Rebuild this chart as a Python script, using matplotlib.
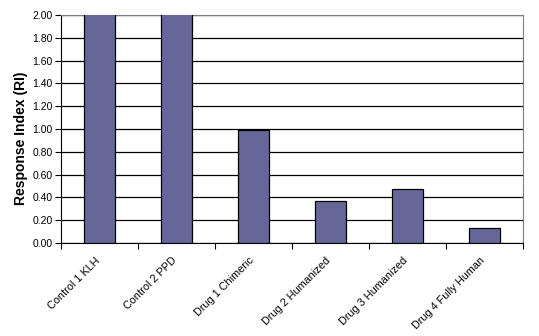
import numpy as np
import matplotlib.pyplot as plt
from matplotlib.transforms import ScaledTranslation

categories = ["Control 1 KLH", "Control 2 PPD", "Drug 1 Chimeric",
              "Drug 2 Humanized", "Drug 3 Humanized", "Drug 4 Fully Human"]
# the two controls run off the top of the axis
ri_values = [2.6, 2.6, 0.99, 0.37, 0.47, 0.13]
y_ticks = np.arange(0, 2.01, 0.2)

plt.rcParams['font.family'] = ['Liberation Sans', 'DejaVu Sans']

fig = plt.figure(figsize=(5.39, 3.36), dpi=100)
ax = fig.add_axes([0.113, 0.277, 0.857, 0.678])

x = np.arange(len(categories))
ax.bar(x, ri_values, width=0.4, color='#666699', edgecolor='black',
       linewidth=0.9, zorder=3)

ax.set_xlim(-0.5, len(categories) - 0.5)
ax.set_ylim(0, 2.0)
ax.set_yticks(y_ticks)
ax.set_yticklabels([f"{v:.2f}" for v in y_ticks], fontsize=7.5)
ax.yaxis.grid(True, color='black', linewidth=0.9, zorder=0)

# ticks between categories, labels centred on bars
ax.set_xticks(np.arange(-0.5, len(categories), 1.0))
ax.set_xticklabels([])
ax.set_xticks(x, minor=True)
ax.set_xticklabels(categories, minor=True, rotation=45, ha='right',
                   rotation_mode='anchor', fontsize=7.8)
ax.tick_params(axis='x', which='minor', length=0, pad=9)
ax.tick_params(axis='x', which='major', length=4, width=0.8, direction='out')
ax.tick_params(axis='y', length=4, width=0.8, direction='out', pad=2)
shift = ScaledTranslation(-0.05, 0, fig.dpi_scale_trans)
for lbl in ax.get_xticklabels(minor=True):
    lbl.set_transform(lbl.get_transform() + shift)

ax.set_ylabel("Response Index (RI)", fontsize=10, fontweight='bold')
ax.yaxis.set_label_coords(-0.072, 0.46)

for side in ['top', 'right']:
    ax.spines[side].set_color('#808080')
for side in ['left', 'bottom']:
    ax.spines[side].set_color('black')

fig.savefig("out.png", dpi=100)
